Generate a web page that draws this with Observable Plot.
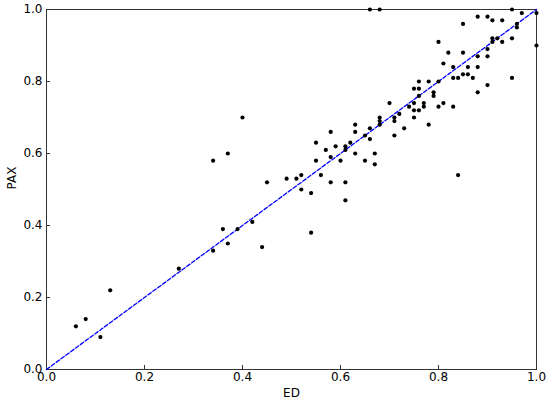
<!DOCTYPE html>
<html>
<head>
<meta charset="utf-8">
<script src="https://cdn.jsdelivr.net/npm/d3@7"></script>
<script src="https://cdn.jsdelivr.net/npm/@observablehq/plot@0.6"></script>
<style>
  html, body { margin: 0; padding: 0; background: #fff; }
  #chart { width: 550px; height: 406px; }
</style>
</head>
<body>
<div id="chart"></div>
<script>
const ed = [0.66,0.68,0.95,0.97,1.0,0.88,0.90,0.85,0.91,0.93,0.96,0.96,1.0,
  0.80,0.91,0.91,0.92,0.93,0.95,0.90,0.82,0.85,0.88,0.90,0.81,0.83,0.86,0.88,
  0.83,0.84,0.85,0.86,0.87,0.88,0.90,0.95,0.76,0.78,0.80,0.75,0.76,0.76,0.79,0.79,
  0.75,0.77,0.77,0.81,0.74,0.75,0.76,0.80,0.83,0.70,0.72,0.71,0.71,0.68,0.68,0.68,
  0.75,0.73,0.78,0.71,0.66,0.63,0.63,0.66,0.65,0.58,0.62,0.61,0.61,0.59,0.57,0.55,
  0.58,0.60,0.55,0.63,0.65,0.67,0.67,0.56,0.58,0.61,0.61,0.49,0.51,0.52,0.52,0.54,0.84,
  0.40,0.37,0.34,0.45,
  0.06,0.08,0.11,0.13,0.27,0.34,0.36,0.37,0.39,0.42,0.44,0.54];
const pax = [1.0,1.0,1.0,0.99,0.99,0.98,0.98,0.96,0.97,0.97,0.96,0.95,0.90,
  0.91,0.92,0.91,0.92,0.91,0.92,0.89,0.88,0.88,0.87,0.87,0.85,0.84,0.84,0.84,
  0.81,0.81,0.82,0.82,0.81,0.77,0.79,0.81,0.80,0.80,0.80,0.78,0.78,0.76,0.77,0.76,
  0.74,0.74,0.73,0.74,0.73,0.72,0.72,0.73,0.73,0.74,0.71,0.70,0.69,0.70,0.69,0.68,
  0.70,0.67,0.68,0.65,0.67,0.68,0.66,0.64,0.65,0.66,0.63,0.62,0.61,0.62,0.61,0.63,
  0.59,0.58,0.58,0.60,0.58,0.60,0.57,0.54,0.52,0.52,0.47,0.53,0.53,0.54,0.50,0.49,0.54,
  0.70,0.60,0.58,0.52,
  0.12,0.14,0.09,0.22,0.28,0.33,0.39,0.35,0.39,0.41,0.34,0.38];
const xTicks = [0, 0.2, 0.4, 0.6, 0.8, 1.0];
const yTicks = [0, 0.2, 0.4, 0.6, 0.8, 1.0];
const diag = [0, 1];
const xLabel = "ED";
const yLabel = "PAX";

const points = ed.map((e, i) => ({ed: e, pax: pax[i]}));
const fmt = d3.format(".1f");

const chart = Plot.plot({
  width: 550,
  height: 406,
  marginLeft: 46,
  marginRight: 14,
  marginTop: 9,
  marginBottom: 37,
  style: {fontFamily: "DejaVu Sans", fontSize: "12px", color: "#000", background: "#fff"},
  x: {domain: [0, 1]},
  y: {domain: [0, 1]},
  marks: [
    Plot.axisX(xTicks, {tickSize: 0, tickPadding: 3, tickFormat: fmt, label: null, fontSize: 12}),
    Plot.axisY(yTicks, {tickSize: 0, tickPadding: 4, tickFormat: fmt, label: null, fontSize: 12}),
    Plot.tickX(xTicks, {x: d => d, insetTop: 356, stroke: "#333", strokeWidth: 1}),
    Plot.tickY(yTicks, {y: d => d, insetRight: 486, stroke: "#333", strokeWidth: 1}),
    Plot.frame({stroke: "#333", strokeWidth: 1}),
    Plot.line(diag, {x: d => d, y: d => d, stroke: "#0000ff", strokeWidth: 1.3, strokeDasharray: "4,2"}),
    Plot.dot(points, {x: "ed", y: "pax", r: 2.1, fill: "#000", stroke: "none"}),
    Plot.text([xLabel], {frameAnchor: "bottom", dy: 27, text: d => d, fontSize: 12, fill: "#000"}),
    Plot.text([yLabel], {frameAnchor: "left", dx: -34, rotate: -90, text: d => d, fontSize: 12, fill: "#000"})
  ]
});
document.getElementById("chart").appendChild(chart);
</script>
</body>
</html>
